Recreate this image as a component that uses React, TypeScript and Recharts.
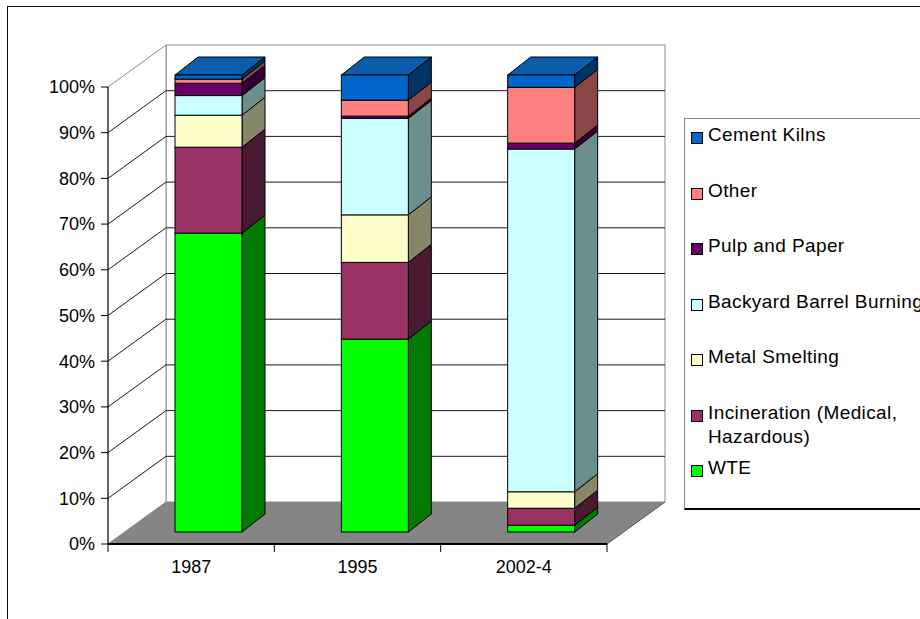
import { Bar, BarChart, CartesianGrid, ReferenceArea, XAxis, YAxis } from 'recharts'

const periods = ['1987', '1995', '2002-4']

// share of total emissions (%) per source, one value per period
const wte = [65.4, 42.2, 1.5]
const incineration = [18.8, 16.8, 3.7]
const metalSmelting = [7.0, 10.4, 3.6]
const barrelBurning = [4.3, 21.1, 75.0]
const pulpPaper = [2.7, 0.5, 1.3]
const other = [0.9, 3.5, 12.2]
const cementKilns = [0.9, 5.5, 2.7]

const yTicks = [0, 10, 20, 30, 40, 50, 60, 70, 80, 90, 100]

// stacked bottom to top
const series = [
  { key: 'wte', label: 'WTE', values: wte, color: '#00FF00', side: '#037a03' },
  { key: 'incin', label: 'Incineration (Medical, Hazardous)', values: incineration, color: '#993366', side: '#4a1a33' },
  { key: 'metal', label: 'Metal Smelting', values: metalSmelting, color: '#FFFFCC', side: '#868669' },
  { key: 'barrel', label: 'Backyard Barrel Burning', values: barrelBurning, color: '#CCFFFF', side: '#6b8f8f' },
  { key: 'pulp', label: 'Pulp and Paper', values: pulpPaper, color: '#660066', side: '#330033' },
  { key: 'other', label: 'Other', values: other, color: '#FF8080', side: '#8a4646' },
  { key: 'cement', label: 'Cement Kilns', values: cementKilns, color: '#0066CC', side: '#003366' },
]

const data = periods.map((period, i) => {
  const row: Record<string, string | number> = { period }
  series.forEach((s) => (row[s.key] = s.values[i]))
  return row
})

const FONT = '"Liberation Sans", Arial, sans-serif'

// oblique projection offsets (px)
const WALL = { dx: 58, dy: -42 } // front plane -> back wall
const FRONT = { dx: 17, dy: -12 } // front plane -> bar front face
const BOX = { dx: 23, dy: -18 } // bar depth

function Box3D(props: any) {
  const { x, y, width, height, fill, side, topFill } = props
  if (!width || height == null) return null
  const fx = x + FRONT.dx
  const fy = y + FRONT.dy
  const r = fx + width
  const b = fy + height
  return (
    <g stroke="#000" strokeWidth={1}>
      <polygon
        points={`${r},${fy} ${r + BOX.dx},${fy + BOX.dy} ${r + BOX.dx},${b + BOX.dy} ${r},${b}`}
        fill={side}
      />
      {topFill && (
        <polygon
          points={`${fx},${fy} ${r},${fy} ${r + BOX.dx},${fy + BOX.dy} ${fx + BOX.dx},${fy + BOX.dy}`}
          fill={topFill}
        />
      )}
      <rect x={fx} y={fy} width={width} height={height} fill={fill} />
    </g>
  )
}

// walls, floor and the category boundary ticks
function renderRoom(p: any) {
  const { x, y, width, height } = p
  const bx = x + WALL.dx
  const by = y + WALL.dy
  const bottom = y + height
  const n = periods.length
  return (
    <g>
      <rect x={bx} y={by} width={width} height={height} fill="#fff" stroke="#8c8c8c" />
      <polygon
        points={`${x},${y} ${bx},${by} ${bx},${by + height} ${x},${bottom}`}
        fill="#fff"
        stroke="#8c8c8c"
      />
      <polygon
        points={`${x},${bottom} ${x + width},${bottom} ${bx + width},${by + height} ${bx},${by + height}`}
        fill="#858585"
      />
      <line x1={x + width} y1={bottom} x2={bx + width} y2={by + height} stroke="#555" />
      {Array.from({ length: n + 1 }, (_, i) => (
        <line
          key={i}
          x1={x + (i * width) / n}
          x2={x + (i * width) / n}
          y1={bottom}
          y2={bottom + 8}
          stroke="#000"
        />
      ))}
    </g>
  )
}

function renderGridLine(p: any) {
  const { x1, x2, y1 } = p
  const isTop = p.y != null && Math.abs(y1 - p.y) < 0.5
  const isBottom = p.y != null && Math.abs(y1 - (p.y + p.height)) < 0.5
  return (
    <g key={p.key}>
      {!isTop && !isBottom && (
        <line
          x1={x1 + WALL.dx}
          x2={x2 + WALL.dx}
          y1={y1 + WALL.dy}
          y2={y1 + WALL.dy}
          stroke="#1a1a1a"
        />
      )}
      {!isTop && !isBottom && (
        <line x1={x1} y1={y1} x2={x1 + WALL.dx} y2={y1 + WALL.dy} stroke="#1a1a1a" />
      )}
    </g>
  )
}

export default function App() {
  const legendItems = [...series].reverse()
  return (
    <div
      style={{
        position: 'absolute',
        left: 0,
        top: 0,
        width: 920,
        height: 619,
        overflow: 'hidden',
        background: '#fff',
        fontFamily: FONT,
      }}
    >
      <div
        style={{
          position: 'absolute',
          left: 7,
          top: 6,
          width: 1000,
          height: 1000,
          borderLeft: '1px solid #111',
          borderTop: '1px solid #111',
        }}
      />
      <div style={{ position: 'absolute', left: 0, top: 0 }}>
        <BarChart
          width={920}
          height={619}
          data={data}
          margin={{ top: 87, right: 313, bottom: 35, left: 8 }}
        >
          <ReferenceArea y1={0} y2={100} shape={renderRoom} ifOverflow="visible" zIndex={-200} />
          <CartesianGrid vertical={false} horizontal={renderGridLine} />
          <XAxis
            dataKey="period"
            height={40}
            tickLine={false}
            tickSize={8}
            tickMargin={8}
            axisLine={{ stroke: '#000', strokeWidth: 2 }}
            tick={{ fill: '#000', fontSize: 18, fontFamily: FONT }}
          />
          <YAxis
            width={100}
            domain={[0, 100]}
            ticks={yTicks}
            interval={0}
            tickFormatter={(v) => `${v}%`}
            tickSize={7}
            tickMargin={6}
            axisLine={{ stroke: '#000' }}
            tickLine={{ stroke: '#000' }}
            tick={{ fill: '#000', fontSize: 18, fontFamily: FONT }}
          />
          {series.map((s, i) => (
            <Bar
              key={s.key}
              dataKey={s.key}
              stackId="total"
              fill={s.color}
              barSize={67}
              isAnimationActive={false}
              shape={(p: any) => (
                <Box3D {...p} side={s.side} topFill={i === series.length - 1 ? '#0b5cad' : null} />
              )}
            />
          ))}
        </BarChart>
      </div>
      <div
        style={{
          position: 'absolute',
          left: 684,
          top: 118,
          width: 260,
          height: 392,
          boxSizing: 'border-box',
          borderLeft: '1px solid #888',
          borderTop: '1px solid #888',
          borderBottom: '2px solid #000',
          background: '#fff',
        }}
      >
        {legendItems.map((s, i) => (
          <div
            key={s.key}
            style={{
              position: 'absolute',
              left: 6,
              top: 4 + i * 55.5,
              display: 'flex',
              alignItems: 'flex-start',
            }}
          >
            <span
              style={{
                width: 10,
                height: 10,
                border: '1px solid #000',
                background: s.color,
                marginTop: 9,
                marginRight: 5,
                flex: 'none',
              }}
            />
            <span
              style={{
                fontSize: 19,
                lineHeight: '24px',
                letterSpacing: 0.4,
                whiteSpace: 'pre',
                color: '#000',
              }}
            >
              {s.label.replace(', ', ',\n')}
            </span>
          </div>
        ))}
      </div>
    </div>
  )
}
